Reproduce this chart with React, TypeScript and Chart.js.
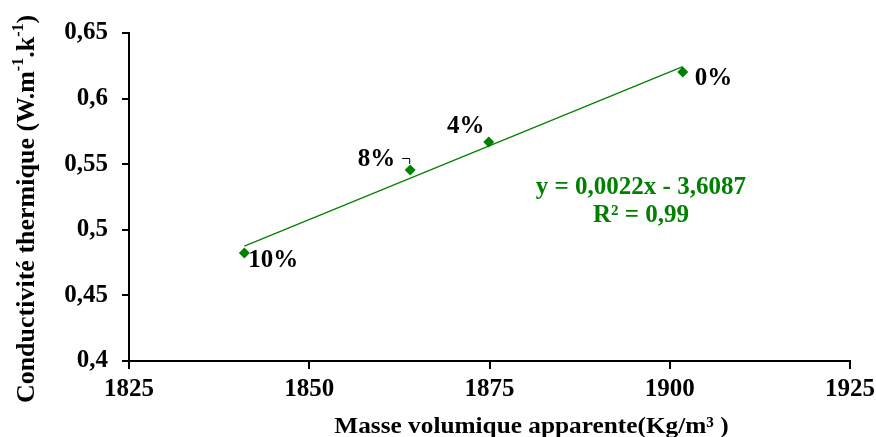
import React, { useEffect, useRef } from "react";
import { Chart, registerables } from "chart.js";

Chart.register(...registerables);

const densities = [1841.0, 1864.0, 1874.9, 1901.8];
const conductivities = [0.4823, 0.5456, 0.5669, 0.6203];
const pointLabels = ["10%", "8%", "4%", "0%"];
const equationLines = ["y = 0,0022x - 3,6087", "R² = 0,99"];
const xTitle = "Masse volumique apparente(Kg/m³ )";
const yTitleParts: [string, boolean][] = [
  ["Conductivité thermique (W.m", false],
  ["-1", true],
  [".k", false],
  ["-1", true],
  [")", false],
];

const GREEN = "#008000";
const FONT = "'Liberation Serif', 'Times New Roman', serif";

// label offsets (style) relative to each point
const labelStyle = [
  { dx: 4, dy: 7.5, align: "left" },
  { dx: -15, dy: -10, align: "right" },
  { dx: -23, dy: -15.5, align: "center" },
  { dx: 12, dy: 6.5, align: "left" },
];

function regression(xs: number[], ys: number[]) {
  const n = xs.length;
  const mx = xs.reduce((a, b) => a + b, 0) / n;
  const my = ys.reduce((a, b) => a + b, 0) / n;
  let sxy = 0, sxx = 0;
  for (let i = 0; i < n; i++) {
    sxy += (xs[i] - mx) * (ys[i] - my);
    sxx += (xs[i] - mx) * (xs[i] - mx);
  }
  const slope = sxy / sxx;
  return { slope, intercept: my - slope * mx };
}

const labelPlugin = {
  id: "labels",
  afterDatasetsDraw(chart: any) {
    const ctx = chart.ctx;
    const xs = chart.scales.x;
    const ys = chart.scales.y;
    const area = chart.chartArea;
    ctx.save();
    ctx.font = `bold 25px ${FONT}`;
    ctx.fillStyle = "#000";
    ctx.textBaseline = "middle";
    for (let i = 0; i < densities.length; i++) {
      const px = xs.getPixelForValue(densities[i]);
      const py = ys.getPixelForValue(conductivities[i]);
      const st = labelStyle[i];
      ctx.textAlign = st.align;
      ctx.fillText(pointLabels[i], px + st.dx, py + st.dy);
      if (i === 1) {
        ctx.strokeStyle = "#000";
        ctx.lineWidth = 1;
        ctx.beginPath();
        ctx.moveTo(px - 8, py - 11.5);
        ctx.lineTo(px - 0.5, py - 11.5);
        ctx.lineTo(px - 0.5, py - 6);
        ctx.stroke();
      }
    }
    // equation
    ctx.fillStyle = GREEN;
    ctx.font = `bold 25px ${FONT}`;
    ctx.textAlign = "center";
    const ex = xs.getPixelForValue(1896.0);
    const ey = ys.getPixelForValue(0.5319);
    ctx.fillText(equationLines[0], ex, ey);
    ctx.fillText(equationLines[1], ex, ey + 28);

    // x title
    ctx.fillStyle = "#000";
    ctx.font = `bold 23px ${FONT}`;
    ctx.textAlign = "center";
    ctx.textBaseline = "alphabetic";
    const cx = (area.left + area.right) / 2 + 42;
    ctx.save();
    ctx.translate(cx, area.bottom + 72);
    ctx.scale(1.1, 1);
    ctx.fillText(xTitle, 0, 0);
    ctx.restore();

    // y title (rotated, with superscripts)
    const mainFont = `bold 26px ${FONT}`;
    const supFont = `bold 16px ${FONT}`;
    let total = 0;
    for (const [t, sup] of yTitleParts) {
      ctx.font = sup ? supFont : mainFont;
      total += ctx.measureText(t).width;
    }
    ctx.save();
    ctx.translate(area.left - 102, (area.top + area.bottom) / 2 + 12);
    ctx.rotate(-Math.PI / 2);
    ctx.textAlign = "left";
    ctx.textBaseline = "middle";
    let x = -total / 2;
    for (const [t, sup] of yTitleParts) {
      ctx.font = sup ? supFont : mainFont;
      ctx.fillText(t, x, sup ? -8 : 0);
      x += ctx.measureText(t).width;
    }
    ctx.restore();
    ctx.restore();
  },
};

export default function App() {
  const ref = useRef<HTMLCanvasElement>(null);
  useEffect(() => {
    if (!ref.current) return;
    const { slope, intercept } = regression(densities, conductivities);
    const xMin = Math.min(...densities);
    const xMax = Math.max(...densities);
    const chart = new Chart(ref.current, {
      type: "scatter",
      data: {
        datasets: [
          {
            label: "trend",
            data: [
              { x: xMin, y: slope * xMin + intercept },
              { x: xMax, y: slope * xMax + intercept },
            ],
            showLine: true,
            borderColor: GREEN,
            borderWidth: 1.2,
            pointRadius: 0,
          },
          {
            label: "data",
            data: densities.map((d, i) => ({ x: d, y: conductivities[i] })),
            pointStyle: "rectRot",
            pointRadius: 5.5,
            backgroundColor: GREEN,
            borderColor: GREEN,
            borderWidth: 0,
          },
        ],
      },
      options: {
        responsive: false,
        animation: false,
        events: [],
        layout: { padding: { left: 0, right: 26, top: 33, bottom: 0 } },
        plugins: {
          legend: { display: false },
          tooltip: { enabled: false },
        },
        scales: {
          x: {
            type: "linear",
            min: 1825,
            max: 1925,
            afterDataLimits: (s: any) => {
              s.min = 1825;
              s.max = 1925;
            },
            ticks: {
              stepSize: 25,
              color: "#000",
              font: { family: FONT, size: 25, weight: "bold" },
              padding: 6,
              maxRotation: 0,
              callback: (v: any) => String(v),
            },
            grid: {
              drawOnChartArea: false,
              drawTicks: true,
              tickLength: 8,
              color: "#000",
              lineWidth: 2,
            },
            border: { display: true, color: "#000", width: 2 },
            title: { display: false },
            afterFit: (s: any) => {
              s.height = 76;
              s.paddingRight = 0;
              s.paddingLeft = 0;
            },
          },
          y: {
            type: "linear",
            min: 0.4,
            max: 0.65,
            ticks: {
              stepSize: 0.05,
              color: "#000",
              font: { family: FONT, size: 25, weight: "bold" },
              padding: 14,
              callback: (v: any) =>
                String(Number(Number(v).toFixed(2))).replace(".", ","),
            },
            grid: {
              drawOnChartArea: false,
              drawTicks: true,
              tickLength: 7,
              color: "#000",
              lineWidth: 2,
            },
            border: { display: true, color: "#000", width: 2 },
            title: { display: false },
            afterFit: (s: any) => {
              s.width = 129;
            },
          },
        },
      } as any,
      plugins: [labelPlugin],
    });
    return () => chart.destroy();
  }, []);
  return (
    <div style={{ position: "fixed", left: 0, top: 0, width: 876, height: 437, background: "#fff" }}>
      <canvas ref={ref} width={876} height={437} style={{ display: "block" }} />
    </div>
  );
}
